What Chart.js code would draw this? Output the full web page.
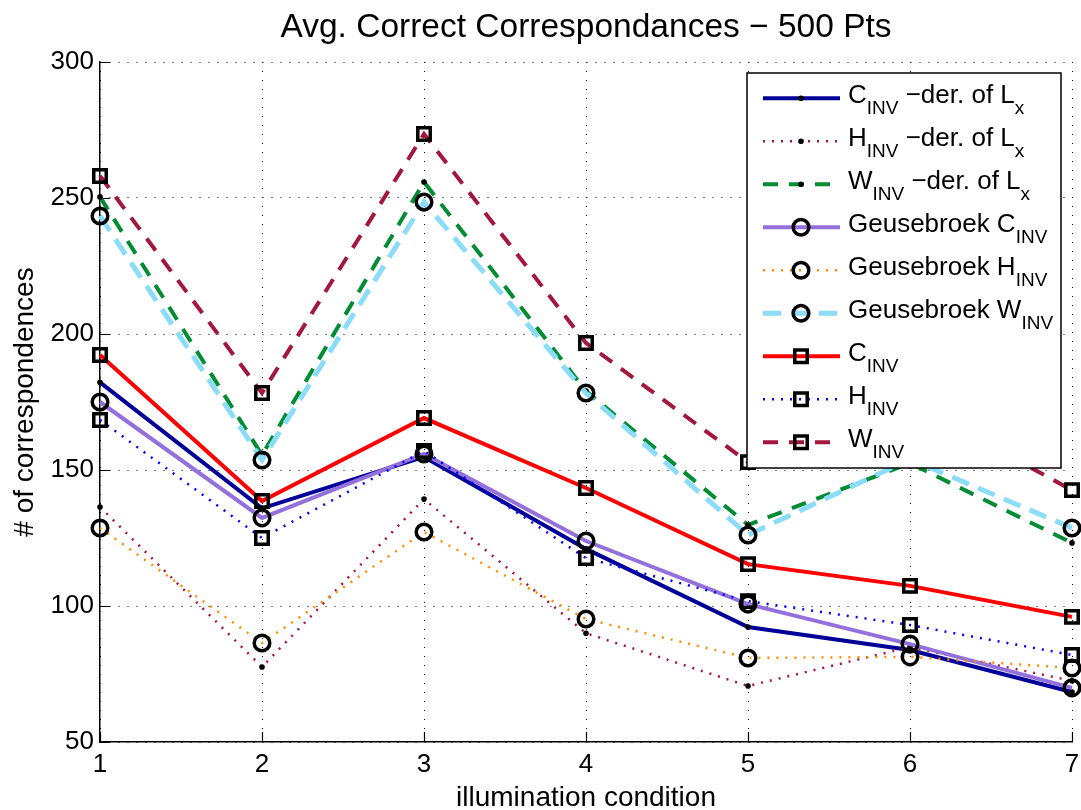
<!DOCTYPE html>
<html>
<head>
<meta charset="utf-8">
<script src="https://cdn.jsdelivr.net/npm/chart.js@4.4.1/dist/chart.umd.min.js"></script>
<style>
  html, body { margin: 0; padding: 0; background: #fff; }
  #chart { display: block; }
</style>
</head>
<body>
<canvas id="chart" width="1081" height="810"></canvas>
<script>
const FONT = '"Liberation Sans", Arial, Helvetica, sans-serif';

const chartTitle = "Avg. Correct Correspondances \u2212 500 Pts";
const xAxisTitle = "illumination condition";
const yAxisTitle = "# of correspondences";

const conditions = [1, 2, 3, 4, 5, 6, 7];
const yTicks = [50, 100, 150, 200, 250, 300];

// values
const cInvDerLx = [182.2, 135.9, 154.8, 121.0, 92.3, 83.8, 68.4];
const hInvDerLx = [136.4, 77.6, 139.3, 90.0, 70.6, 84.9, 72.5];
const wInvDerLx = [250.4, 155.5, 255.9, 179.0, 129.8, 152.5, 123.2];
const geuseCInv = [175.0, 132.4, 155.9, 123.9, 100.7, 86.0, 69.9];
const geuseHInv = [128.7, 86.4, 127.2, 95.2, 80.9, 81.3, 77.2];
const geuseWInv = [243.4, 153.7, 248.5, 178.3, 126.1, 154.0, 128.7];
const cInv = [192.3, 138.6, 169.1, 143.4, 115.4, 107.4, 96.0];
const hInv = [168.4, 125.0, 157.0, 117.6, 101.8, 93.0, 82.0];
const wInv = [258.1, 178.3, 273.5, 196.7, 152.9, 175.0, 142.6];

// legend text pieces: [text, isSubscript]
const legendLabels = [
  [["C", false], ["INV", true], [" \u2212der. of L", false], ["x", true]],
  [["H", false], ["INV", true], [" \u2212der. of L", false], ["x", true]],
  [["W", false], ["INV", true], [" \u2212der. of L", false], ["x", true]],
  [["Geusebroek C", false], ["INV", true]],
  [["Geusebroek H", false], ["INV", true]],
  [["Geusebroek W", false], ["INV", true]],
  [["C", false], ["INV", true]],
  [["H", false], ["INV", true]],
  [["W", false], ["INV", true]]
];

const SOLID = [];
const DOTTED = [2, 7];
const DASHED = [15, 11];

function series(idx, data, color, dash, width, marker) {
  const m = {
    dot:    { pointStyle: "circle", pointRadius: 2.8, pointBorderWidth: 0, pointBackgroundColor: "#000" },
    circle: { pointStyle: "circle", pointRadius: 7.8, pointBorderWidth: 3.5, pointBackgroundColor: "rgba(0,0,0,0)" },
    square: { pointStyle: "rect", pointRadius: 8.8, pointBorderWidth: 3.5, pointBackgroundColor: "rgba(0,0,0,0)" }
  }[marker];
  return Object.assign({
    label: legendLabels[idx].map(p => p[0]).join(""),
    data: data.map((v, i) => ({ x: conditions[i], y: v })),
    borderColor: color,
    borderWidth: width,
    borderDash: dash,
    pointBorderColor: "#000",
    tension: 0,
    fill: false,
    clip: false,
    order: 20 - idx
  }, m);
}

const datasets = [
  series(0, cInvDerLx, "#000099", SOLID, 4, "dot"),
  series(1, hInvDerLx, "#A3173C", DOTTED, 2.5, "dot"),
  series(2, wInvDerLx, "#008C33", DASHED, 4, "dot"),
  series(3, geuseCInv, "#9370DB", SOLID, 4, "circle"),
  series(4, geuseHInv, "#FF8C00", DOTTED, 2.5, "circle"),
  series(5, geuseWInv, "#8ADCF8", [18, 10], 5, "circle"),
  series(6, cInv, "#FF0000", SOLID, 4, "square"),
  series(7, hInv, "#0000FF", DOTTED, 2.5, "square"),
  series(8, wInv, "#A3173C", DASHED, 4, "square")
];

// small inward tick marks on the left and bottom axes
const innerTicks = {
  id: "innerTicks",
  beforeDatasetsDraw(chart) {
    const { ctx, chartArea, scales } = chart;
    ctx.save();
    ctx.strokeStyle = "#000";
    ctx.lineWidth = 1.2;
    ctx.beginPath();
    scales.x.ticks.forEach(t => {
      const px = Math.round(scales.x.getPixelForValue(t.value)) + 0.5;
      ctx.moveTo(px, chartArea.bottom);
      ctx.lineTo(px, chartArea.bottom - 10);
    });
    scales.y.ticks.forEach(t => {
      const py = Math.round(scales.y.getPixelForValue(t.value)) + 0.5;
      ctx.moveTo(chartArea.left, py);
      ctx.lineTo(chartArea.left + 10, py);
    });
    ctx.stroke();
    ctx.restore();
  }
};

// MATLAB-like legend with subscripts
const subLegend = {
  id: "subLegend",
  afterDatasetsDraw(chart) {
    const { ctx, chartArea } = chart;
    const left = chartArea.right - 325;
    const top = chartArea.top + 11;
    const w = 314, h = 395, rowH = 43;

    ctx.save();
    ctx.fillStyle = "#fff";
    ctx.fillRect(left, top, w, h);
    ctx.strokeStyle = "#000";
    ctx.lineWidth = 1.5;
    ctx.strokeRect(left, top, w, h);

    chart.data.datasets.forEach((ds, i) => {
      const y = top + 25.3 + i * rowH;

      ctx.save();
      ctx.strokeStyle = ds.borderColor;
      ctx.lineWidth = ds.borderWidth;
      ctx.setLineDash(ds.borderDash);
      ctx.beginPath();
      ctx.moveTo(left + 16, y);
      ctx.lineTo(left + 93, y);
      ctx.stroke();
      ctx.restore();

      ctx.save();
      ctx.setLineDash([]);
      ctx.fillStyle = ds.pointBackgroundColor;
      ctx.strokeStyle = ds.pointBorderColor;
      ctx.lineWidth = ds.pointBorderWidth;
      Chart.helpers.drawPoint(ctx, {
        pointStyle: ds.pointStyle,
        radius: ds.pointRadius,
        borderWidth: ds.pointBorderWidth,
        rotation: 0
      }, left + 54, y);
      ctx.restore();

      let x = left + 101;
      ctx.fillStyle = "#000";
      ctx.textBaseline = "alphabetic";
      ctx.textAlign = "left";
      legendLabels[i].forEach(([t, sub]) => {
        ctx.font = (sub ? "19px " : "26px ") + FONT;
        ctx.fillText(t, x, sub ? y + 16 : y + 5);
        x += ctx.measureText(t).width;
      });
    });
    ctx.restore();
  }
};

Chart.defaults.font.family = FONT;
Chart.defaults.color = "#000";

new Chart(document.getElementById("chart"), {
  type: "line",
  data: { datasets },
  plugins: [innerTicks, subLegend],
  options: {
    responsive: false,
    animation: false,
    events: [],
    layout: { autoPadding: false, padding: { top: 0, right: 9, bottom: 0, left: 0 } },
    plugins: {
      legend: { display: false },
      tooltip: { enabled: false },
      title: {
        display: true,
        text: chartTitle,
        fullSize: false,
        color: "#000",
        font: { size: 33.5, weight: "normal" },
        padding: { top: 7.5, bottom: 14.3 }
      }
    },
    scales: {
      x: {
        type: "linear",
        min: conditions[0],
        max: conditions[conditions.length - 1],
        afterFit: s => { s.height = 68; s.paddingRight = 0; },
        ticks: {
          stepSize: 1,
          padding: 0,
          color: "#000",
          font: { size: 26 }
        },
        grid: {
          color: "#000",
          lineWidth: 1,
          drawTicks: true,
          tickLength: 7,
          tickColor: "rgba(0,0,0,0)"
        },
        border: { display: true, color: "#000", width: 1.5, dash: [1, 8] },
        title: {
          display: true,
          text: xAxisTitle,
          color: "#000",
          font: { size: 28, lineHeight: 0.86 },
          padding: { top: 0, bottom: 0 }
        }
      },
      y: {
        min: yTicks[0],
        max: yTicks[yTicks.length - 1],
        afterFit: s => { s.width = 100; },
        afterBuildTicks: s => { s.ticks = yTicks.map(v => ({ value: v })); },
        ticks: {
          padding: 6,
          color: "#000",
          font: { size: 26 }
        },
        grid: {
          color: "#000",
          lineWidth: 1,
          drawTicks: false
        },
        border: { display: true, color: "#000", width: 1.5, dash: [1, 8] },
        title: {
          display: true,
          text: yAxisTitle,
          color: "#000",
          font: { size: 28 },
          padding: { top: 8, bottom: 0 }
        }
      }
    }
  }
});
</script>
</body>
</html>
